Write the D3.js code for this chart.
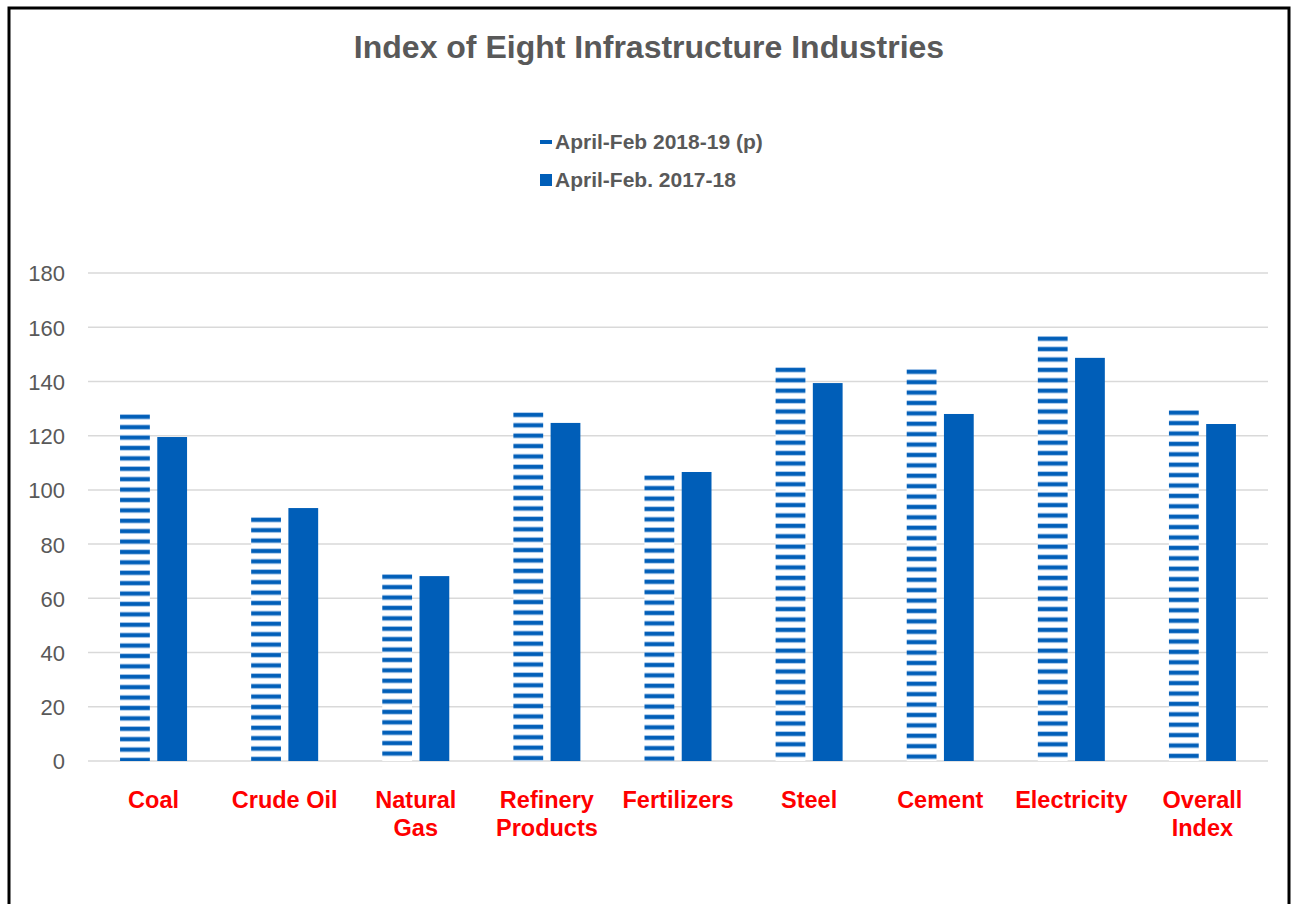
<!DOCTYPE html>
<html><head><meta charset="utf-8">
<script src="https://cdn.jsdelivr.net/npm/d3@7"></script>
<style>body{margin:0;background:#fff;font-family:"Liberation Sans",Arial,sans-serif}</style>
</head><body>
<svg id="c" width="1292" height="904" font-family="Liberation Sans, Arial, sans-serif"></svg>
<script>
const categories = ["Coal","Crude Oil","Natural\nGas","Refinery\nProducts","Fertilizers","Steel","Cement","Electricity","Overall\nIndex"];
const series = ["April-Feb 2018-19 (p)","April-Feb. 2017-18"];
const values2018 = [128.0, 90.0, 69.0, 128.7, 105.5, 145.3, 144.6, 156.8, 129.5];
const values2017 = [119.5, 93.3, 68.2, 124.7, 106.6, 139.4, 128.0, 148.7, 124.3];
const yTicks = [0,20,40,60,80,100,120,140,160,180];

const svg = d3.select("#c");
const blue = "#005EB8";
const gray = "#595959";
const L = 88, R = 1268, B = 761, T = 273;

const y = d3.scaleLinear().domain([0,180]).range([B,T]);
const x0 = d3.scaleBand().domain(categories).range([L,R]);

const defs = svg.append("defs");
function makePattern(id, y0){
  const pat = defs.append("pattern").attr("id",id).attr("patternUnits","userSpaceOnUse")
    .attr("width",10).attr("height",10.4).attr("y",y0);
  pat.append("rect").attr("x",0).attr("y",0).attr("width",10).attr("height",10.4).attr("fill","#ffffff");
  pat.append("rect").attr("x",0).attr("y",0).attr("width",10).attr("height",5.6).attr("fill","#a9c8ea");
  pat.append("rect").attr("x",0).attr("y",1).attr("width",10).attr("height",3.6).attr("fill",blue);
}

// frame
svg.append("rect").attr("x",9).attr("y",8).attr("width",1280).attr("height",920)
  .attr("fill","none").attr("stroke","#000").attr("stroke-width",3);

svg.append("text").attr("x",649).attr("y",58).attr("text-anchor","middle")
  .attr("font-size",32).attr("font-weight","bold").attr("fill",gray)
  .text("Index of Eight Infrastructure Industries");

// grid
svg.append("g").selectAll("line").data(yTicks).join("line")
  .attr("x1",L).attr("x2",R).attr("y1",d=>y(d)).attr("y2",d=>y(d))
  .attr("stroke","#d9d9d9").attr("stroke-width",1.5);

const yAxis = d3.axisLeft(y).tickValues(yTicks).tickSize(0).tickPadding(0);
const gy = svg.append("g").attr("transform",`translate(65,0)`).call(yAxis);
gy.select(".domain").remove();
gy.selectAll("text").attr("font-size",22).attr("fill",gray).attr("font-family","Liberation Sans, Arial, sans-serif").attr("dy","0.36em");

const data = categories.map((c,i)=>({c, v:[values2018[i], values2017[i]]}));
const g = svg.append("g");
data.forEach((d,i)=>{
  const cx = x0(d.c) + x0.bandwidth()/2;
  const x1 = d3.scaleBand().domain(series).range([cx-33.5, cx+33.5]).paddingInner(0.2);
  makePattern("st"+i, y(d.v[0]));
  series.forEach((s,j)=>{
    g.append("rect").attr("x",x1(s)).attr("width",x1.bandwidth())
      .attr("y",y(d.v[j])).attr("height",B-y(d.v[j]))
      .attr("fill", j===0 ? `url(#st${i})` : blue);
  });
});

// category labels
const xl = svg.append("g");
categories.forEach(c=>{
  const cx = x0(c) + x0.bandwidth()/2;
  const t = xl.append("text").attr("x",cx).attr("y",808).attr("text-anchor","middle")
    .attr("font-size",23.5).attr("font-weight","bold").attr("fill","#FF0000");
  c.split("\n").forEach((line,k)=>{
    t.append("tspan").attr("x",cx).attr("dy",k===0?0:28).text(line);
  });
});

// legend
const lg = svg.append("g");
lg.append("rect").attr("x",540).attr("y",140).attr("width",12).attr("height",4).attr("fill",blue);
lg.append("rect").attr("x",540).attr("y",174).attr("width",12).attr("height",12).attr("fill",blue);
lg.append("text").attr("x",555).attr("y",149).attr("font-size",21).attr("font-weight","bold").attr("fill",gray).text(series[0]);
lg.append("text").attr("x",555).attr("y",187).attr("font-size",21).attr("font-weight","bold").attr("fill",gray).text(series[1]);
</script>
</body></html>
